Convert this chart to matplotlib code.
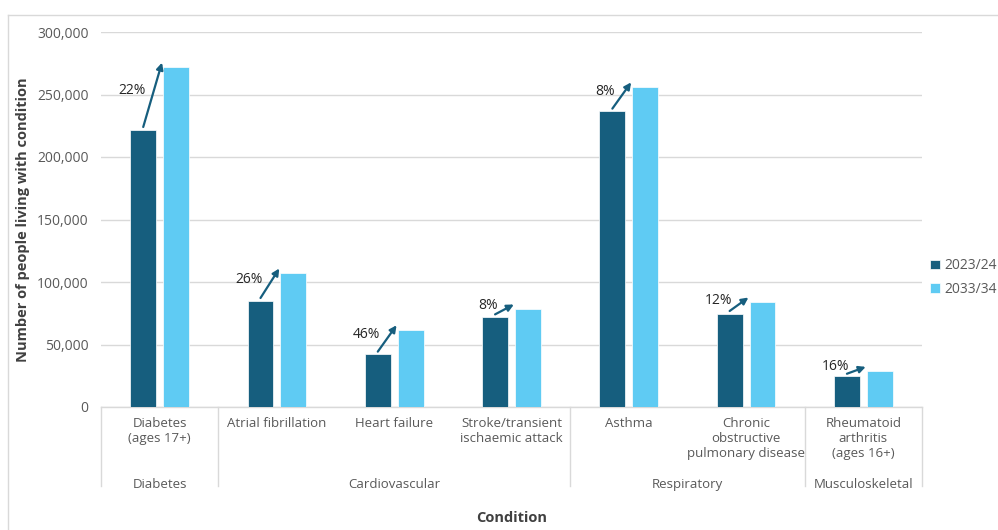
import numpy as np
import matplotlib
matplotlib.use('Agg')
from matplotlib import pyplot as plt
from matplotlib.lines import Line2D

plt.rcParams['font.family'] = ['Open Sans', 'DejaVu Sans']

# data
conditions = ['Diabetes\n(ages 17+)', 'Atrial fibrillation', 'Heart failure',
              'Stroke/transient\nischaemic attack', 'Asthma',
              'Chronic\nobstructive\npulmonary disease',
              'Rheumatoid\narthritis\n(ages 16+)']
groups = ['Diabetes', 'Cardiovascular', 'Respiratory', 'Musculoskeletal']
group_sizes = [1, 3, 2, 1]
values_2023 = [222000, 85200, 42300, 72100, 236700, 74800, 24600]
values_2033 = [272000, 107300, 61900, 78500, 256200, 84100, 28600]
pct_labels = ['22%', '26%', '46%', '8%', '8%', '12%', '16%']
series_names = ['2023/24', '2033/34']
yticks = [0, 50000, 100000, 150000, 200000, 250000, 300000]

dark = '#165E7E'
light = '#5FCBF3'
grey_txt = '#595959'
grid_c = '#d9d9d9'

fig = plt.figure(figsize=(9.98, 5.30), dpi=100)
ax = fig.add_axes([101 / 998, 1 - 407 / 530, 821 / 998, 375 / 530])

x = np.arange(len(conditions))
w = 0.22
off = 0.14
ax.bar(x - off, values_2023, w, color=dark, edgecolor='white', linewidth=0.5,
       label=series_names[0], zorder=3)
ax.bar(x + off, values_2033, w, color=light, edgecolor='white', linewidth=0.5,
       label=series_names[1], zorder=3)

ax.set_xlim(-0.5, len(conditions) - 0.5)
ax.set_ylim(0, 300000)
ax.set_yticks(yticks)
ax.set_yticklabels([f'{v:,}' for v in yticks], color=grey_txt, fontsize=10)
ax.tick_params(axis='y', length=0, pad=9)
ax.set_xticks([])
ax.grid(axis='y', color=grid_c, linewidth=1, zorder=0)
for s in ['top', 'right', 'left']:
    ax.spines[s].set_visible(False)
ax.spines['bottom'].set_color(grid_c)
ax.spines['bottom'].set_linewidth(1)

# growth arrows + percentage labels
for i in range(len(conditions)):
    x0, y0 = x[i] - off, values_2023[i] + 2000
    x1, y1 = x[i] + off - w / 2 - 0.01, values_2033[i] + 3500
    ax.annotate('', xy=(x1, y1), xytext=(x0, y0),
                arrowprops=dict(arrowstyle='-|>', color=dark, lw=1.6,
                                mutation_scale=10, shrinkA=0, shrinkB=0),
                zorder=4)
    ax.annotate(pct_labels[i], xy=((x0 + x1) / 2, (y0 + y1) / 2),
                xytext=(-5, 3), textcoords='offset points',
                ha='right', va='center', fontsize=10, color='#262626', zorder=5)

# category labels
trans = ax.get_xaxis_transform()
for i, lab in enumerate(conditions):
    ax.text(x[i], -0.026, lab, transform=trans, ha='center', va='top',
            fontsize=9.5, color=grey_txt, linespacing=1.2)

# group labels and separators
edges = np.concatenate([[0], np.cumsum(group_sizes)]) - 0.5
for k, g in enumerate(groups):
    ax.text((edges[k] + edges[k + 1]) / 2, -0.19, g, transform=trans,
            ha='center', va='top', fontsize=9.5, color=grey_txt)
for e in edges:
    ax.plot([e, e], [0, -0.21], transform=trans, color=grid_c, lw=1,
            clip_on=False)

ax.set_ylabel('Number of people living with condition', fontsize=10.5,
              fontweight='bold', color='#404040', labelpad=5)
fig.text((101 + 922) / 2 / 998, 1 - 518 / 530, 'Condition', ha='center',
         va='center', fontsize=10.5, fontweight='bold', color='#404040')

ax.legend(loc='center left', bbox_to_anchor=(0.995, 0.345), frameon=False,
          fontsize=10, labelcolor=grey_txt, handlelength=0.7, handleheight=0.7,
          handletextpad=0.3, labelspacing=0.6)

# outer border
fig.add_artist(Line2D([8 / 998, 1], [1 - 15 / 530, 1 - 15 / 530],
                      color=grid_c, lw=1))
fig.add_artist(Line2D([8 / 998, 8 / 998], [0, 1 - 15 / 530],
                      color=grid_c, lw=1))

fig.savefig('out.png', dpi=100)
